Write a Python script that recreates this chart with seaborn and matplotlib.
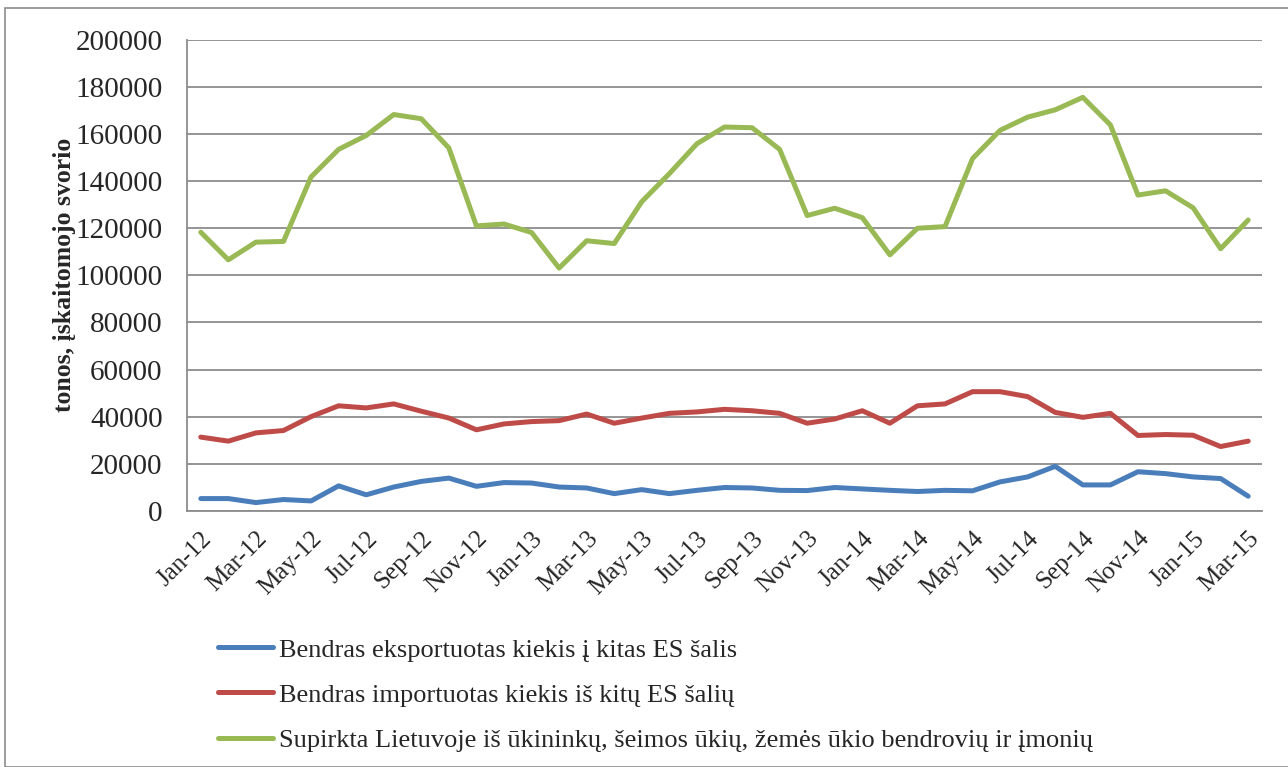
import pandas as pd
import matplotlib.pyplot as plt
import seaborn as sns
from matplotlib.patches import Rectangle

months = ["Jan", "Feb", "Mar", "Apr", "May", "Jun", "Jul", "Aug", "Sep", "Oct", "Nov", "Dec"]
periods = [m + "-" + y for y in ["12", "13", "14"] for m in months] + ["Jan-15", "Feb-15", "Mar-15"]

export_es = [5200, 5200, 3500, 4800, 4200, 10600, 6800, 10100, 12500, 13900, 10400, 12000,
             11800, 10100, 9700, 7300, 9000, 7300, 8700, 9900, 9700, 8700, 8600, 9900,
             9300, 8700, 8200, 8700, 8500, 12300, 14400, 18900, 11000, 11000, 16600, 15800,
             14400, 13700, 6200]
import_es = [31300, 29600, 33100, 34100, 40000, 44600, 43700, 45400, 42300, 39400, 34400, 36900,
             37900, 38300, 41100, 37200, 39400, 41400, 42000, 43100, 42500, 41400, 37200, 39000,
             42500, 37200, 44600, 45400, 50600, 50600, 48500, 41800, 39700, 41400, 32000, 32400,
             32100, 27300, 29600]
supirkta = [118300, 106600, 114100, 114400, 141800, 153500, 159400, 168300, 166500, 154100, 121000, 121800,
            118200, 103100, 114700, 113500, 131300, 143200, 155900, 163000, 162700, 153500, 125400, 128500,
            124500, 108700, 120000, 120700, 149600, 161600, 167200, 170300, 175600, 163900, 134100, 135900,
            128700, 111300, 123500]

names = ["Bendras eksportuotas kiekis į kitas ES šalis",
         "Bendras importuotas kiekis iš kitų ES šalių",
         "Supirkta Lietuvoje iš ūkininkų, šeimos ūkių, žemės ūkio bendrovių ir įmonių"]
colors = ["#4A7EBB", "#BE4B48", "#98B954"]

df = pd.DataFrame({"period": periods * 3,
                   "value": export_es + import_es + supirkta,
                   "series": [names[0]] * 39 + [names[1]] * 39 + [names[2]] * 39})
df["x"] = list(range(39)) * 3

sns.set_style("white")
plt.rcParams["font.family"] = ["Liberation Serif", "DejaVu Serif"]

fig = plt.figure(figsize=(12.88, 7.67), dpi=100)
ax = fig.add_axes([0.1452, 0.334, 0.8346, 0.614])

sns.lineplot(data=df, x="x", y="value", hue="series", palette=colors,
             linewidth=3.6, ax=ax, legend=True)

ax.set_xlim(-0.5, 38.5)
ax.set_ylim(0, 200000)
ax.set_yticks(range(0, 200001, 20000))
ax.set_yticklabels([str(v) for v in range(0, 200001, 20000)], fontsize=21)
ax.set_xticks(range(0, 39, 2))
ax.set_xticklabels(periods[::2], rotation=45, ha="right", rotation_mode="anchor", fontsize=18)
ax.tick_params(axis="y", length=0, pad=17.5)
ax.tick_params(axis="x", length=0, pad=12)
ax.yaxis.grid(True, color="#8C8C8C", linewidth=1.3)
ax.set_axisbelow(True)
for s in ["top", "right"]:
    ax.spines[s].set_visible(False)
for s in ["left", "bottom"]:
    ax.spines[s].set_color("#8C8C8C")
    ax.spines[s].set_linewidth(1.3)

ax.set_xlabel("")
ax.set_ylabel("tonos, įskaitomojo svorio", fontsize=18.5, fontweight="bold")
ax.yaxis.set_label_coords(-0.1033, 0.5)

ax.get_legend().remove()
handles, labels = ax.get_legend_handles_labels()
fig.legend(handles, labels, loc="upper left", bbox_to_anchor=(218 / 1288, 0.168),
           borderaxespad=0, borderpad=0, frameon=False, fontsize=19,
           handlelength=2.1, handletextpad=0.2, labelspacing=0.82)

fig.patches.append(Rectangle((5 / 1288, 0), 1.0, 1 - 8 / 767, transform=fig.transFigure,
                             fill=False, edgecolor="#8C8C8C", linewidth=1.2))

plt.savefig("out.png", dpi=100)
